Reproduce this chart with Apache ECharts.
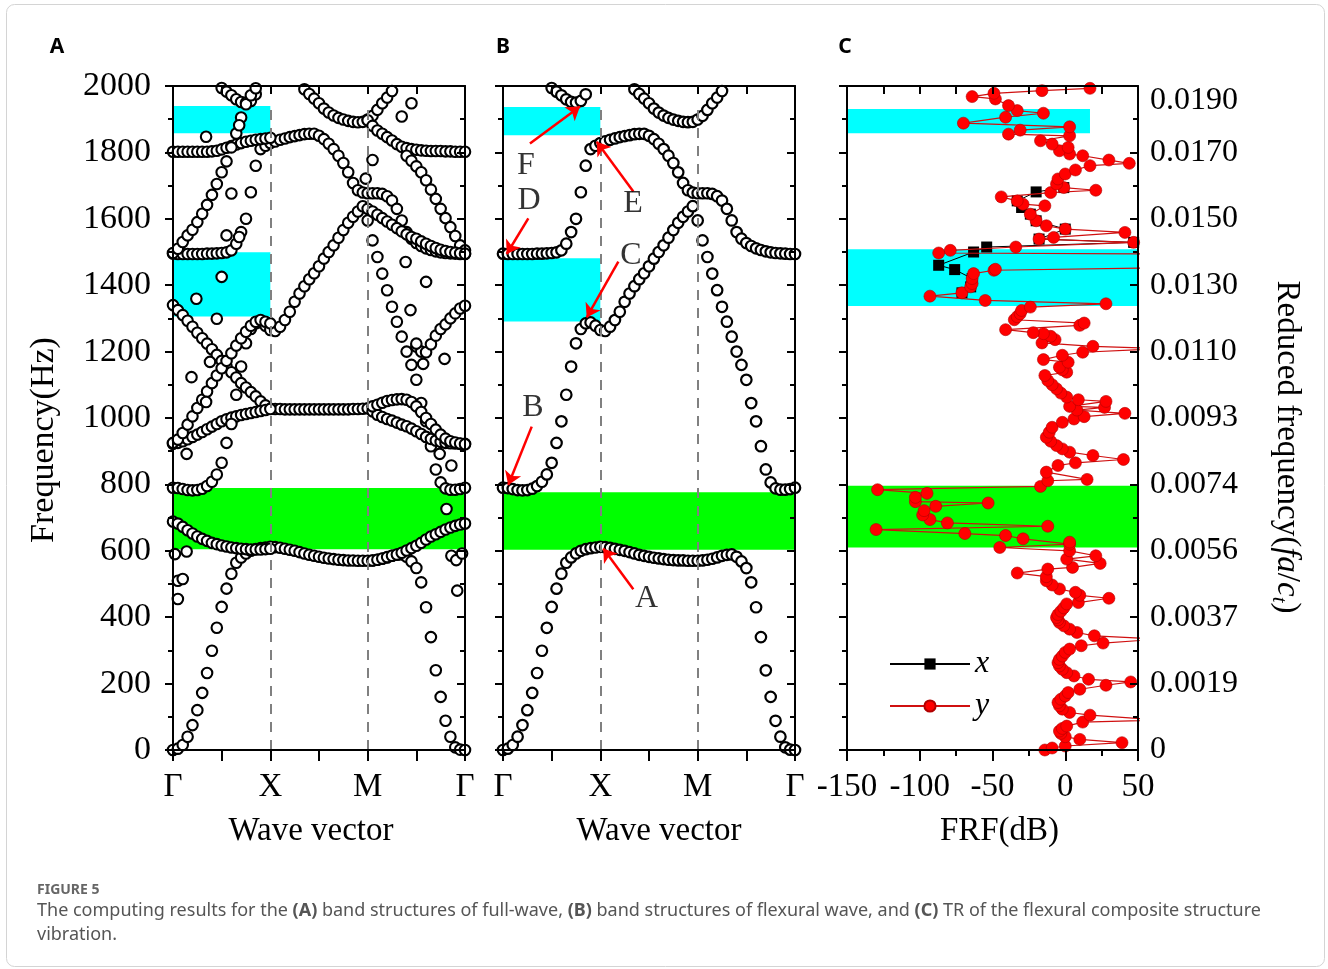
<!DOCTYPE html>
<html>
<head>
<meta charset="utf-8">
<script src="https://cdn.jsdelivr.net/npm/echarts@6/dist/echarts.min.js"></script>
<style>
  html, body { margin: 0; padding: 0; background: #fff; }
  #chart { width: 1328px; height: 969px; }
</style>
</head>
<body>
<div id="chart"></div>
<script>
// k 路径采样：Γ-X-M-Γ 每段 20 步
const K = Array.from({ length: 61 }, (_, i) => i / 20);
const kTickLabels = ['Γ', 'X', 'M', 'Γ'];

// 弯曲波能带 (B 图，同时出现在 A 图)
const flexB1 = { i0: 0, f: [
  0, 4, 15, 40, 75, 120, 172, 232, 299, 368, 431, 486, 531, 564, 580, 592, 600, 605, 608, 610, 612,
  611, 609, 606, 603, 600, 596, 592, 588, 585, 582, 579, 577, 575, 573, 572, 571, 571, 570, 570, 570,
  571, 573, 576, 580, 585, 588, 589, 582, 568, 548, 505, 430, 340, 240, 160, 88, 40, 8, 1, 0] };
const flexB2 = { i0: 0, f: [
  790, 789, 786, 783, 782, 783, 787, 795, 808, 830, 865, 925, 990, 1070, 1155, 1225, 1268, 1285, 1288, 1278, 1265,
  1262, 1275, 1295, 1320, 1350, 1375, 1397, 1418, 1436, 1457, 1480, 1500, 1520, 1543, 1566, 1588, 1606, 1622, 1638, 1595,
  1535, 1485, 1435, 1385, 1335, 1290, 1245, 1200, 1160, 1115, 1045, 990, 915, 845, 806, 788, 784, 784, 786, 790] };
const flexB3 = { i0: 0, f: [
  1495, 1494, 1494, 1494, 1494, 1494, 1494, 1495, 1495, 1496, 1497, 1499, 1505, 1525, 1560, 1600, 1680, 1760, 1810, 1820, 1828,
  1833, 1838, 1842, 1846, 1849, 1852, 1855, 1856, 1856, 1850, 1840, 1826, 1810, 1790, 1768, 1740, 1708, 1686, 1679, 1677,
  1677, 1677, 1675, 1668, 1655, 1630, 1595, 1560, 1540, 1527, 1518, 1511, 1506, 1502, 1499, 1497, 1496, 1495, 1494, 1494] };
const flexB4 = { i0: 9, f: [2010, 1994, 1983, 1972, 1960, 1952, 1950, 1955, 1975, 2010] };
const flexB5 = { i0: 26, f: [2010, 1990, 1976, 1962, 1948, 1932, 1920, 1911, 1904, 1899, 1895, 1892, 1891, 1892, 1899,
  1910, 1928, 1948, 1965, 1985, 2005] };

// 全波能带里额外的面内支 (A 图)
const inA1 = { i0: 0, f: [688, 682, 672, 662, 652, 643, 636, 630, 624, 620, 616, 613, 610, 608, 606, 605, 604, 604, 604, 605, 606] };
const inA1b = { i0: 41, f: [571, 573, 577, 581, 585, 589, 594, 601, 608, 615, 624, 634, 643, 650, 657, 664, 670, 675, 679, 682] };
const inA2 = { i0: 0, f: [
  1340, 1325, 1310, 1293, 1275, 1257, 1240, 1224, 1207, 1190, 1172, 1155, 1138, 1122, 1105, 1092, 1078, 1065, 1050, 1038, 1028,
  1027, 1027, 1026, 1026, 1026, 1026, 1026, 1026, 1026, 1026, 1026, 1026, 1026, 1026, 1026, 1026, 1027, 1027, 1028, 1029,
  1020, 1010, 1003, 997, 992, 986, 980, 975, 968, 960, 952, 943, 937, 932, 928, 925, 924, 923, 922, 922] };
const inA3 = { i0: 0, f: [922, 925, 930, 936, 943, 950, 958, 966, 974, 982, 990, 996, 1001, 1005, 1009, 1012, 1015, 1018, 1021, 1024, 1027] };
const inA3b = { i0: 41, f: [1035, 1040, 1046, 1051, 1054, 1056, 1057, 1055, 1048, 1035, 1018, 1000, 982, 965, 950, 938, 930, 926, 923, 921] };
const inA4 = { i0: 0, f: [925, 935, 955, 980, 1005, 1030, 1055, 1080, 1105, 1128, 1150, 1172, 1195, 1218, 1240, 1260, 1278, 1290, 1295, 1290, 1285] };
const inA4b = { i0: 50, f: [1215, 1200, 1198, 1222, 1248, 1268, 1282, 1300, 1315, 1330, 1338] };
const inA5 = { i0: 0, f: [1802, 1802, 1802, 1802, 1802, 1802, 1802, 1802, 1803, 1805, 1809, 1814, 1819, 1824, 1828, 1832, 1835, 1838, 1840, 1842, 1844] };
const inA5b = { i0: 40, f: [1897, 1880, 1866, 1856, 1846, 1836, 1825, 1817, 1813, 1810, 1808, 1806, 1805, 1804, 1804, 1804, 1803, 1803, 1802, 1802, 1802] };
const inA6 = { i0: 0, f: [1497, 1510, 1530, 1550, 1567, 1590, 1615, 1642, 1672, 1705, 1740, 1773, 1815, 1857, 1905, 1945, 1972, 1993, 2010] };
const inA6b = { i0: 48, f: [1790, 1775, 1758, 1740, 1716, 1688, 1660, 1630, 1602, 1575, 1548, 1520, 1505] };
const inA7 = { i0: 40, f: [1630, 1622, 1612, 1602, 1592, 1582, 1572, 1562, 1553, 1545, 1540, 1532, 1525, 1518, 1512, 1507, 1503, 1500, 1498, 1496, 1495] };
// 零散点 [k, f]
const strayA = [[0.34, 1847], [0.6, 1676], [0.55, 1550], [0.68, 1545], [0.5, 1425], [0.24, 1359], [0.68, 1882],
  [2.45, 1948], [2.35, 1908], [2.05, 1777], [1.98, 1721], [2.39, 1470], [2.6, 1410], [2.44, 1325],
  [0.19, 1123], [0.45, 1299], [0.38, 1169], [0.34, 1048], [0.14, 892], [0.6, 982], [2.79, 1178], [2.5, 1224],
  [2.57, 1163], [2.86, 857], [2.81, 726], [2.74, 892], [0.02, 590], [0.14, 598], [0.05, 510], [0.1, 515],
  [0.05, 455], [2.86, 585], [2.91, 572], [2.92, 480], [2.97, 592]];

// 带隙 [k0, k1, f0, f1]
const cyanA = [[0, 1, 1858, 1940], [0, 1, 1306, 1499]];
const greenA = [[0, 3, 605, 789]];
const cyanB = [[0, 1, 1852, 1937], [0, 1, 1291, 1481]];
const greenB = [[0, 3, 603, 776]];
const cyanC = [[-150, 17, 1858, 1931], [-150, 50, 1337, 1508]];
const greenC = [[-150, 50, 610, 796]];

// B 图标注：文字位置、箭头起点、箭头终点
const markNames = ['A', 'B', 'C', 'D', 'E', 'F'];
const markText = [[1.476, 457], [0.308, 1030], [1.315, 1488], [0.267, 1654], [1.336, 1645], [0.236, 1759]];
const arrowFrom = [[1.339, 484], [0.295, 974], [1.185, 1471], [0.26, 1601], [1.339, 1682], [0.277, 1827]];
const arrowTo = [[1.03, 607], [0.054, 798], [0.86, 1303], [0.038, 1494], [0.963, 1832], [0.791, 1938]];

// C 图 FRF： [频率 Hz, dB]
const frfY = [[0, -14], [6, -9], [12, 0], [22, 39], [32, 10], [40, 0], [50, -3], [57, -4], [65, -2], [72, 1], [84, 12], [90, 65],
  [105, 17], [113, 3], [123, -2], [133, -4], [143, -5], [153, -3], [163, 0], [173, 2], [183, 10], [195, 28], [205, 45], [213, 16],
  [223, 6], [233, 1], [243, -2], [253, -4], [263, -5], [273, -4], [283, -2], [294, 0], [304, 3], [314, 11], [322, 26], [334, 65],
  [344, 20], [354, 8], [364, 3], [374, -1], [384, -4], [392, -5], [399, -6], [408, -5], [418, -3], [428, -1], [440, 1], [444, 9],
  [457, 30], [466, 10], [475, 7], [485, -4], [497, -9], [510, -13], [522, -13], [533, -33], [545, -12], [550, 5], [562, 24],
  [575, 1], [585, 21], [600, 3], [610, -45], [620, 3], [626, 3], [636, -29], [646, -41], [652, -69], [664, -130], [674, -12],
  [684, -81], [694, -93], [708, -98], [721, -97], [734, -89], [744, -53], [748, -103], [761, -103], [773, -95], [784, -129],
  [794, -17], [811, -12], [815, 15], [837, -13], [857, -5], [865, 7], [875, 40], [887, 19], [897, 3], [907, -2], [917, -6],
  [930, -10], [942, -13], [957, -11], [972, -9], [987, -2], [997, 6], [1004, 13], [1014, 41], [1024, 8], [1032, 27], [1035, 3],
  [1050, 28], [1055, 9], [1063, 1], [1075, -3], [1088, -6], [1100, -9], [1113, -12], [1128, -14], [1138, 1], [1145, -2],
  [1153, -4], [1168, 2], [1176, -15], [1189, -2], [1198, 12], [1209, 65], [1216, 19], [1226, -16], [1236, -7], [1246, -10],
  [1254, -15], [1257, -22], [1266, -41], [1279, 10], [1286, 13], [1296, -35], [1305, -33], [1314, -31], [1324, -30], [1334, -24],
  [1344, 28], [1354, -55], [1367, -93], [1377, -71], [1395, -65], [1405, -64], [1420, -64], [1435, -63], [1445, -49], [1448, -48],
  [1453, 75], [1494, 75], [1497, -87], [1505, -79], [1515, -34], [1529, 47], [1539, -18], [1544, -8], [1559, 41], [1569, 0],
  [1579, -13], [1594, -20], [1614, -24], [1639, -14], [1644, -29], [1654, -33], [1666, -44], [1679, -10], [1686, 21], [1694, -1],
  [1705, -6], [1720, -5], [1735, 0], [1747, 7], [1760, 17], [1767, 44], [1777, 30], [1790, 12], [1795, 3], [1805, -4], [1815, 2],
  [1825, -9], [1835, -17], [1850, 3], [1855, -39], [1867, -31], [1877, 3], [1888, -70], [1906, -41], [1918, -15], [1926, -33],
  [1941, -39], [1961, -48], [1968, -64], [1978, -49], [1986, -16], [1993, 17]];
const frfX = [[1377, -71], [1395, -65], [1420, -64], [1447, -76], [1460, -87], [1500, -63], [1515, -54], [1529, 47], [1539, -18],
  [1569, 0], [1594, -20], [1614, -24], [1634, -30], [1654, -33], [1681, -20], [1694, -1]];

const reducedLabels = ['0', '0.0019', '0.0037', '0.0056', '0.0074', '0.0093', '0.0110', '0.0130', '0.0150', '0.0170', '0.0190'];

const SERIF = '"Liberation Serif", "Times New Roman", serif';
const SANS = '"Noto Sans", "Open Sans", sans-serif';

function pts(b) {
  const out = [];
  b.f.forEach((f, j) => out.push([K[b.i0 + j], f]));
  return out;
}
const bandsB = [flexB1, flexB2, flexB3, flexB4, flexB5];
const bandsA = bandsB.concat([inA1, inA1b, inA2, inA3, inA3b, inA4, inA4b, inA5, inA5b, inA6, inA6b, inA7]);
const dataA = bandsA.flatMap(pts).concat(strayA);
const dataB = bandsB.flatMap(pts);

const areas = (list, color) => list.map(r => [
  { coord: [r[0], r[2]], itemStyle: { color: color, opacity: 1 } },
  { coord: [r[1], r[3]] }
]);

const frame = { show: true, onZero: false, lineStyle: { color: '#000', width: 2 } };
const tickStyle = { color: '#000', width: 2 };

function kAxisBottom(g, name, pad) {
  return {
    gridIndex: g, type: 'value', min: 0, max: 3, interval: 0.5, position: 'bottom', z: 10,
    axisLine: frame, axisTick: { length: 11, lineStyle: tickStyle },
    axisLabel: { formatter: v => (Number.isInteger(v) ? kTickLabels[v] : ''), fontFamily: SERIF, fontSize: 33, color: '#000', margin: 21 },
    splitLine: { show: false },
    name: name, nameLocation: 'middle', nameGap: 65,
    nameTextStyle: { fontFamily: SERIF, fontSize: 33, color: '#000', padding: pad }
  };
}
function topAxis(g, min, max, interval) {
  return {
    gridIndex: g, type: 'value', min: min, max: max, interval: interval, position: 'top', z: 10,
    axisLine: frame, axisTick: { inside: true, length: 8, lineStyle: tickStyle },
    axisLabel: { show: false }, splitLine: { show: false }
  };
}
function fAxis(g, pos, extra) {
  return Object.assign({
    gridIndex: g, type: 'value', min: 0, max: 2000, interval: 200, position: pos, z: 10,
    axisLine: frame,
    axisTick: { inside: pos === 'right', length: 8, lineStyle: tickStyle },
    minorTick: { show: true, splitNumber: 2, length: 5, lineStyle: tickStyle },
    axisLabel: { show: false },
    splitLine: { show: false }, minorSplitLine: { show: false }
  }, extra || {});
}

const chart = echarts.init(document.getElementById('chart'));

const option = {
  animation: false,
  backgroundColor: '#fff',
  grid: [
    { left: 173, top: 86, width: 292, height: 664 },
    { left: 503, top: 86, width: 292, height: 664 },
    { left: 847, top: 86, width: 291, height: 664 }
  ],
  xAxis: [
    kAxisBottom(0, 'Wave vector', [0, 16, 0, 0]),
    topAxis(0, 0, 3, 0.5),
    kAxisBottom(1, 'Wave vector', [0, 0, 0, 20]),
    topAxis(1, 0, 3, 0.5),
    {
      gridIndex: 2, type: 'value', min: -150, max: 50, interval: 50, position: 'bottom', z: 10,
      axisLine: frame, axisTick: { length: 11, lineStyle: tickStyle },
      minorTick: { show: true, splitNumber: 2, length: 6, lineStyle: tickStyle },
      axisLabel: { fontFamily: SERIF, fontSize: 33, color: '#000', margin: 21 },
      splitLine: { show: false }, minorSplitLine: { show: false },
      name: 'FRF(dB)', nameLocation: 'middle', nameGap: 65,
      nameTextStyle: { fontFamily: SERIF, fontSize: 33, color: '#000', padding: [0, 0, 0, 14] }
    },
    topAxis(2, -150, 50, 25)
  ],
  yAxis: [
    fAxis(0, 'left', {
      axisLabel: { show: true, formatter: v => String(v), fontFamily: SERIF, fontSize: 34, color: '#000', margin: 22 },
      name: 'Frequency(Hz)', nameLocation: 'middle', nameRotate: 90, nameGap: 112,
      nameTextStyle: { fontFamily: SERIF, fontSize: 34, color: '#000', padding: [0, 44, 0, 0] }
    }),
    fAxis(0, 'right'),
    fAxis(1, 'left'),
    fAxis(1, 'right'),
    fAxis(2, 'left'),
    fAxis(2, 'right', {
      axisLabel: {
        show: true, fontFamily: SERIF, fontSize: 32, color: '#000', margin: 12,
        formatter: v => {
          const i = Math.round(v / 200);
          return i === 10 ? '{t|' + reducedLabels[i] + '}' : reducedLabels[i];
        },
        rich: { t: { fontFamily: SERIF, fontSize: 32, color: '#000', padding: [30, 0, 0, 0] } }
      },
      name: 'Reduced frequency({i|fa}/{i|c}{s|t})', nameLocation: 'middle', nameRotate: -90, nameGap: 130,
      nameTextStyle: {
        fontFamily: SERIF, fontSize: 33, color: '#000', padding: [0, 0, 0, 58],
        rich: {
          i: { fontFamily: SERIF, fontSize: 33, fontStyle: 'italic', color: '#000' },
          s: { fontFamily: SERIF, fontSize: 21, fontStyle: 'italic', color: '#000', padding: [16, 0, 0, 0] }
        }
      }
    })
  ],
  legend: {
    data: ['x', 'y'], orient: 'vertical', left: 889, top: 648, selectedMode: false,
    itemWidth: 80, itemHeight: 14, itemGap: 10, padding: 0,
    textStyle: { fontFamily: SERIF, fontStyle: 'italic', fontSize: 32, color: '#000' }
  },
  graphic: [
    { type: 'rect', silent: true, shape: { x: 6.5, y: 4.5, width: 1318, height: 962, r: 8 },
      style: { fill: 'none', stroke: '#d4d4d4', lineWidth: 1 } },
    { type: 'text', x: 57, y: 47, style: { text: 'A', font: 'bold 21px ' + SANS, fill: '#000', align: 'center', verticalAlign: 'middle' } },
    { type: 'text', x: 503, y: 47, style: { text: 'B', font: 'bold 21px ' + SANS, fill: '#000', align: 'center', verticalAlign: 'middle' } },
    { type: 'text', x: 845, y: 47, style: { text: 'C', font: 'bold 21px ' + SANS, fill: '#000', align: 'center', verticalAlign: 'middle' } },
    { type: 'text', x: 37, y: 890, style: { text: 'FIGURE 5', font: 'bold 14px ' + SANS, fill: '#666', verticalAlign: 'middle' } },
    { type: 'text', x: 37, y: 899, style: {
      text: 'The computing results for the {b|(A)} band structures of full-wave, {b|(B)} band structures of flexural wave, and {b|(C)} TR of the flexural composite structure\nvibration.',
      fontFamily: SANS, fontSize: 18, fill: '#555', lineHeight: 24, verticalAlign: 'top',
      rich: { b: { fontFamily: SANS, fontSize: 18, fontWeight: 'bold', fill: '#555', lineHeight: 24 } }
    } }
  ],
  series: [
    // A：带隙与虚线
    {
      type: 'scatter', xAxisIndex: 0, yAxisIndex: 0, data: [], z: 1, silent: true,
      markArea: { silent: true, data: areas(cyanA, '#00ffff').concat(areas(greenA, '#00ff00')) },
      markLine: {
        silent: true, symbol: ['none', 'none'], label: { show: false },
        lineStyle: { color: '#808080', width: 2, type: [10, 8] },
        data: [[{ coord: [1, 0] }, { coord: [1, 1935] }], [{ coord: [2, 0] }, { coord: [2, 1935] }]]
      }
    },
    {
      type: 'scatter', xAxisIndex: 0, yAxisIndex: 0, data: dataA, z: 3, silent: true,
      symbol: 'circle', symbolSize: 10.5,
      itemStyle: { color: '#fff', borderColor: '#000', borderWidth: 2.1, opacity: 1 }
    },
    // B
    {
      type: 'scatter', xAxisIndex: 2, yAxisIndex: 2, data: [], z: 1, silent: true,
      markArea: { silent: true, data: areas(cyanB, '#00ffff').concat(areas(greenB, '#00ff00')) },
      markLine: {
        silent: true, symbol: ['none', 'none'], label: { show: false },
        lineStyle: { color: '#808080', width: 2, type: [10, 8] },
        data: [[{ coord: [1, 0] }, { coord: [1, 1950] }], [{ coord: [2, 0] }, { coord: [2, 1950] }]]
      }
    },
    {
      type: 'scatter', xAxisIndex: 2, yAxisIndex: 2, data: dataB, z: 3, silent: true,
      symbol: 'circle', symbolSize: 10.5,
      itemStyle: { color: '#fff', borderColor: '#000', borderWidth: 2.2, opacity: 1 }
    },
    {
      type: 'scatter', xAxisIndex: 2, yAxisIndex: 2, data: [], z: 5, silent: true,
      markLine: {
        silent: true, symbol: ['none', 'arrow'], symbolSize: 13, label: { show: false },
        lineStyle: { color: '#ff0000', width: 2.5, type: 'solid' },
        data: arrowFrom.map((p, i) => [{ coord: p }, { coord: arrowTo[i] }])
      }
    },
    {
      type: 'scatter', xAxisIndex: 2, yAxisIndex: 2, z: 6, silent: true, symbolSize: 0,
      data: markText.map((p, i) => [p[0], p[1], markNames[i]]),
      label: { show: true, position: 'inside', formatter: p => p.data[2], fontFamily: SERIF, fontSize: 32, color: '#000' }
    },
    // C
    {
      type: 'scatter', xAxisIndex: 4, yAxisIndex: 4, data: [], z: 1, silent: true,
      markArea: { silent: true, data: areas(cyanC, '#00ffff').concat(areas(greenC, '#00ff00')) }
    },
    {
      name: 'x', type: 'line', xAxisIndex: 4, yAxisIndex: 4, z: 3, silent: true,
      data: frfX.map(d => [d[1], d[0]]),
      symbol: 'rect', symbolSize: 11, showSymbol: true,
      itemStyle: { color: '#000' }, lineStyle: { color: '#000', width: 1 }
    },
    {
      name: 'y', type: 'line', xAxisIndex: 4, yAxisIndex: 4, z: 4, silent: true,
      data: frfY.map(d => [d[1], d[0]]),
      symbol: 'circle', symbolSize: 12, showSymbol: true,
      itemStyle: { color: '#ff0000', borderColor: '#b00000', borderWidth: 0.6 },
      lineStyle: { color: '#d01010', width: 1.2 }
    }
  ]
};

chart.setOption(option);
window.addEventListener('resize', () => chart.resize());
</script>
</body>
</html>
